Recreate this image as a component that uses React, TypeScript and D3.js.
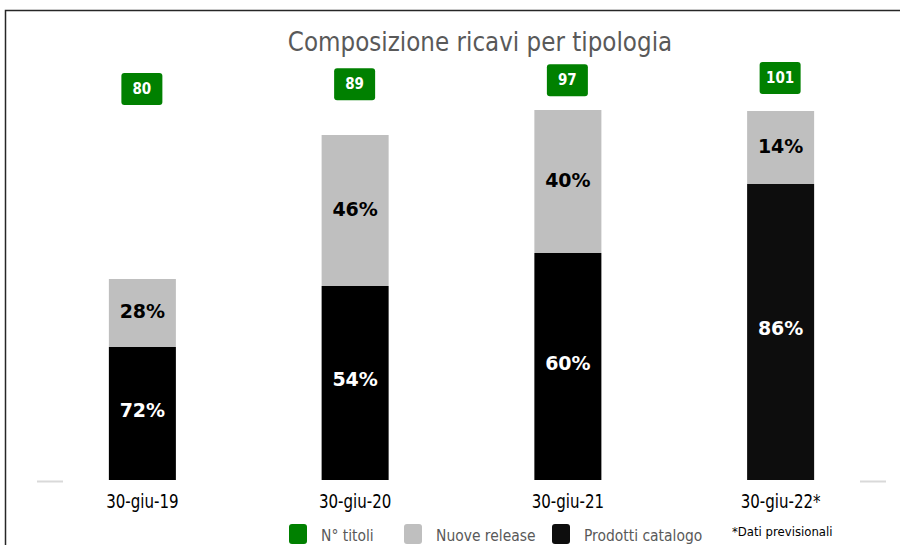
import * as d3 from 'd3';

// Data
const categories = ['30-giu-19', '30-giu-20', '30-giu-21', '30-giu-22*'];
const catalogo = [13.3, 19.4, 22.7, 29.6]; // Prodotti catalogo (bar segment)
const nuove = [6.8, 15.1, 14.3, 7.3]; // Nuove release (bar segment)
const catalogoPct = ['72%', '54%', '60%', '86%'];
const nuovePct = ['28%', '46%', '40%', '14%'];
const titoli = [80, 89, 97, 101]; // N° titoli

const narrow = "'DejaVu Sans Condensed', sans-serif";
const bold = "'DejaVu Sans', Verdana, sans-serif";

export default function App() {
    const width = 900;
    const height = 545;

    const x = d3
        .scaleBand()
        .domain(categories)
        .range([36, 887])
        .paddingInner(0.685)
        .paddingOuter(0.3425);

    const y = d3.scaleLinear().domain([0, 37]).range([480, 110]);

    // secondary scale for the green N° titoli markers
    const yTitoli = d3.scaleLinear().domain([0, 250]).range([131, 0]);

    const bw = x.bandwidth();

    const legend = [
        { label: 'N° titoli', color: '#008000', x: 289 },
        { label: 'Nuove release', color: '#bfbfbf', x: 404 },
        { label: 'Prodotti catalogo', color: '#0d0d0d', x: 552 },
    ];

    return (
        <svg
            width={width}
            height={height}
            style={{ position: 'absolute', left: 0, top: 0, background: '#fff' }}
        >
            {/* frame */}
            <path d="M5.5,545 L5.5,10.5 L900,10.5" fill="none" stroke="#262626" strokeWidth={1.5} />

            {/* title */}
            <text
                transform="translate(480,51) scale(0.95,1)"
                textAnchor="middle"
                fontFamily={narrow}
                fontSize={27}
                fill="#595959"
            >
                Composizione ricavi per tipologia
            </text>

            {/* axis line stubs */}
            <line x1={37} x2={63} y1={481.5} y2={481.5} stroke="#d9d9d9" strokeWidth={2} />
            <line x1={860} x2={886} y1={481.5} y2={481.5} stroke="#d9d9d9" strokeWidth={2} />

            {categories.map((c, i) => {
                const x0 = x(c) as number;
                const cx = x0 + bw / 2;
                const yCat = y(catalogo[i]);
                const yTop = y(catalogo[i] + nuove[i]);
                const ty = yTitoli(titoli[i]);
                return (
                    <g key={c}>
                        <rect x={x0} y={yCat} width={bw} height={y(0) - yCat} fill={i === 3 ? '#0d0d0d' : '#000'} />
                        <rect x={x0} y={yTop} width={bw} height={yCat - yTop} fill="#bfbfbf" />
                        <text
                            x={cx}
                            y={(yTop + yCat) / 2 - 2}
                            textAnchor="middle"
                            dominantBaseline="central"
                            fontFamily={bold}
                            fontWeight="bold"
                            fontSize={19}
                            fill="#000"
                        >
                            {nuovePct[i]}
                        </text>
                        <text
                            x={cx}
                            y={(yCat + y(0)) / 2 - 4}
                            textAnchor="middle"
                            dominantBaseline="central"
                            fontFamily={bold}
                            fontWeight="bold"
                            fontSize={19}
                            fill="#fff"
                        >
                            {catalogoPct[i]}
                        </text>
                        {/* N° titoli marker */}
                        <rect x={cx - 21} y={ty - 16} width={41} height={32} rx={3} fill="#008000" />
                        <text
                            x={cx - 0.5}
                            y={ty}
                            textAnchor="middle"
                            dominantBaseline="central"
                            fontFamily={narrow}
                            fontWeight="bold"
                            fontSize={15}
                            fill="#fff"
                        >
                            {titoli[i]}
                        </text>
                        {/* category label */}
                        <text
                            transform={`translate(${cx},508) scale(0.88,1)`}
                            textAnchor="middle"
                            fontFamily={narrow}
                            fontSize={19}
                            fill="#000"
                        >
                            {c}
                        </text>
                    </g>
                );
            })}

            {/* legend */}
            {legend.map((l) => (
                <g key={l.label}>
                    <rect x={l.x} y={524} width={18} height={20} rx={3} fill={l.color} />
                    <text
                        transform={`translate(${l.x + 32},541) scale(0.965,1)`}
                        fontFamily={narrow}
                        fontSize={16}
                        fill="#595959"
                    >
                        {l.label}
                    </text>
                </g>
            ))}
            <text x={732} y={536} fontFamily={narrow} fontSize={13} fill="#000">
                *Dati previsionali
            </text>
        </svg>
    );
}
